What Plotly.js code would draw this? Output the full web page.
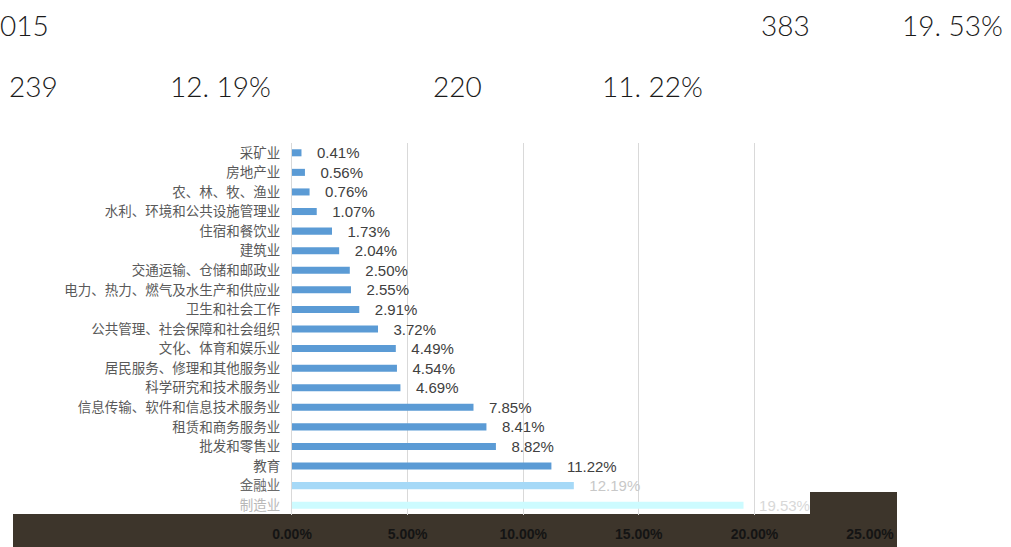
<!DOCTYPE html>
<html>
<head>
<meta charset="utf-8">
<script src="https://cdn.plot.ly/plotly-3.0.1.min.js"></script>
<style>html,body{margin:0;padding:0;background:#fff;}#chart{width:1011px;height:547px;}</style>
</head>
<body>
<div id="chart"></div>
<script>
// Data (top to bottom)
const categories = ["采矿业","房地产业","农、林、牧、渔业","水利、环境和公共设施管理业","住宿和餐饮业","建筑业","交通运输、仓储和邮政业","电力、热力、燃气及水生产和供应业","卫生和社会工作","公共管理、社会保障和社会组织","文化、体育和娱乐业","居民服务、修理和其他服务业","科学研究和技术服务业","信息传输、软件和信息技术服务业","租赁和商务服务业","批发和零售业","教育","金融业","制造业"];
const shares = [0.0041,0.0056,0.0076,0.0107,0.0173,0.0204,0.0250,0.0255,0.0291,0.0372,0.0449,0.0454,0.0469,0.0785,0.0841,0.0882,0.1122,0.1219,0.1953];
const valueLabels = ["0.41%","0.56%","0.76%","1.07%","1.73%","2.04%","2.50%","2.55%","2.91%","3.72%","4.49%","4.54%","4.69%","7.85%","8.41%","8.82%","11.22%","12.19%","19.53%"];
const xTickVals = [0,0.05,0.10,0.15,0.20,0.25];
const xTickText = ["0.00%","5.00%","10.00%","15.00%","20.00%","25.00%"];
const headerLine1 = ["015","383","19. 53%"];
const headerLine2 = ["239","12. 19%","220","11. 22%"];

const L = 292, R = 870, T = 143, B = 515;
const xp = px => (px - L) / (R - L);
const yp = py => (B - py) / (B - T);

const barColors = categories.map((c,i)=> i===17 ? "#a6d9f7" : (i===18 ? "#cdfbff" : "#5b9bd5"));
const textColors = categories.map((c,i)=> i===17 ? "#c8c8c8" : (i===18 ? "#d8d8d8" : "#404040"));
const tickText = categories.map((c,i)=> i===17 ? "<span style='color:#6a6a6a'>"+c+"</span>" : (i===18 ? "<span style='color:#b8b8b8'>"+c+"</span>" : c));

const trace = {
  type: "bar",
  orientation: "h",
  x: shares,
  y: categories,
  marker: {color: barColors},
  text: valueLabels.map(s => "   " + s),
  textposition: "outside",
  constraintext: "none",
  cliponaxis: false,
  textfont: {family: "Liberation Sans Narrow, Arial Narrow, sans-serif", size: 15, color: textColors},
  hoverinfo: "none"
};

const hdrFont = {family: "Lato, 'Open Sans', sans-serif", size: 28, color: "#1a1a1a", weight: 300};
const ann = [];
const line1Pos = [[-2,"left"],[785,"center"],[952,"center"]];
headerLine1.forEach((t,i)=> ann.push({text:t, x:xp(line1Pos[i][0]), y:yp(25), xref:"paper", yref:"paper", xanchor:line1Pos[i][1], yanchor:"middle", showarrow:false, font:hdrFont}));
const line2Pos = [33,220,457,652];
headerLine2.forEach((t,i)=> ann.push({text:t, x:xp(line2Pos[i]), y:yp(86), xref:"paper", yref:"paper", xanchor:"center", yanchor:"middle", showarrow:false, font:hdrFont}));

const layout = {
  width: 1011, height: 547,
  margin: {l: L, r: 1011 - R, t: T, b: 547 - B, pad: 0},
  paper_bgcolor: "#ffffff",
  plot_bgcolor: "rgba(0,0,0,0)",
  showlegend: false,
  bargap: 0.64,
  font: {family: "Noto Sans CJK SC, sans-serif"},
  xaxis: {
    range: [0, 0.25], tickvals: xTickVals, ticktext: xTickText,
    showgrid: true, gridcolor: "#d9d9d9", gridwidth: 1, zeroline: false,
    showline: false, ticks: "outside", ticklen: 6, tickcolor: "rgba(0,0,0,0)",
    tickfont: {family: "Liberation Sans Narrow, Arial Narrow, sans-serif", size: 14, color: "#141414", weight: 700},
    fixedrange: true
  },
  yaxis: {
    type: "category", autorange: "reversed",
    tickvals: categories, ticktext: tickText,
    showline: true, linecolor: "#d9d9d9", linewidth: 1,
    ticks: "outside", ticklen: 8, tickcolor: "rgba(0,0,0,0)",
    tickfont: {family: "Noto Sans CJK SC, sans-serif", size: 13.5, color: "#595959"},
    fixedrange: true
  },
  shapes: [
    {type:"rect", xref:"paper", yref:"paper", x0:xp(13), x1:xp(897), y0:yp(547), y1:yp(514), fillcolor:"#3d352b", line:{width:0}, layer:"below"},
    {type:"rect", xref:"paper", yref:"paper", x0:xp(810), x1:xp(897), y0:yp(514), y1:yp(492), fillcolor:"#3d352b", line:{width:0}, layer:"below"}
  ],
  annotations: ann
};

Plotly.newPlot("chart", [trace], layout, {displayModeBar: false, staticPlot: true});
</script>
</body>
</html>
